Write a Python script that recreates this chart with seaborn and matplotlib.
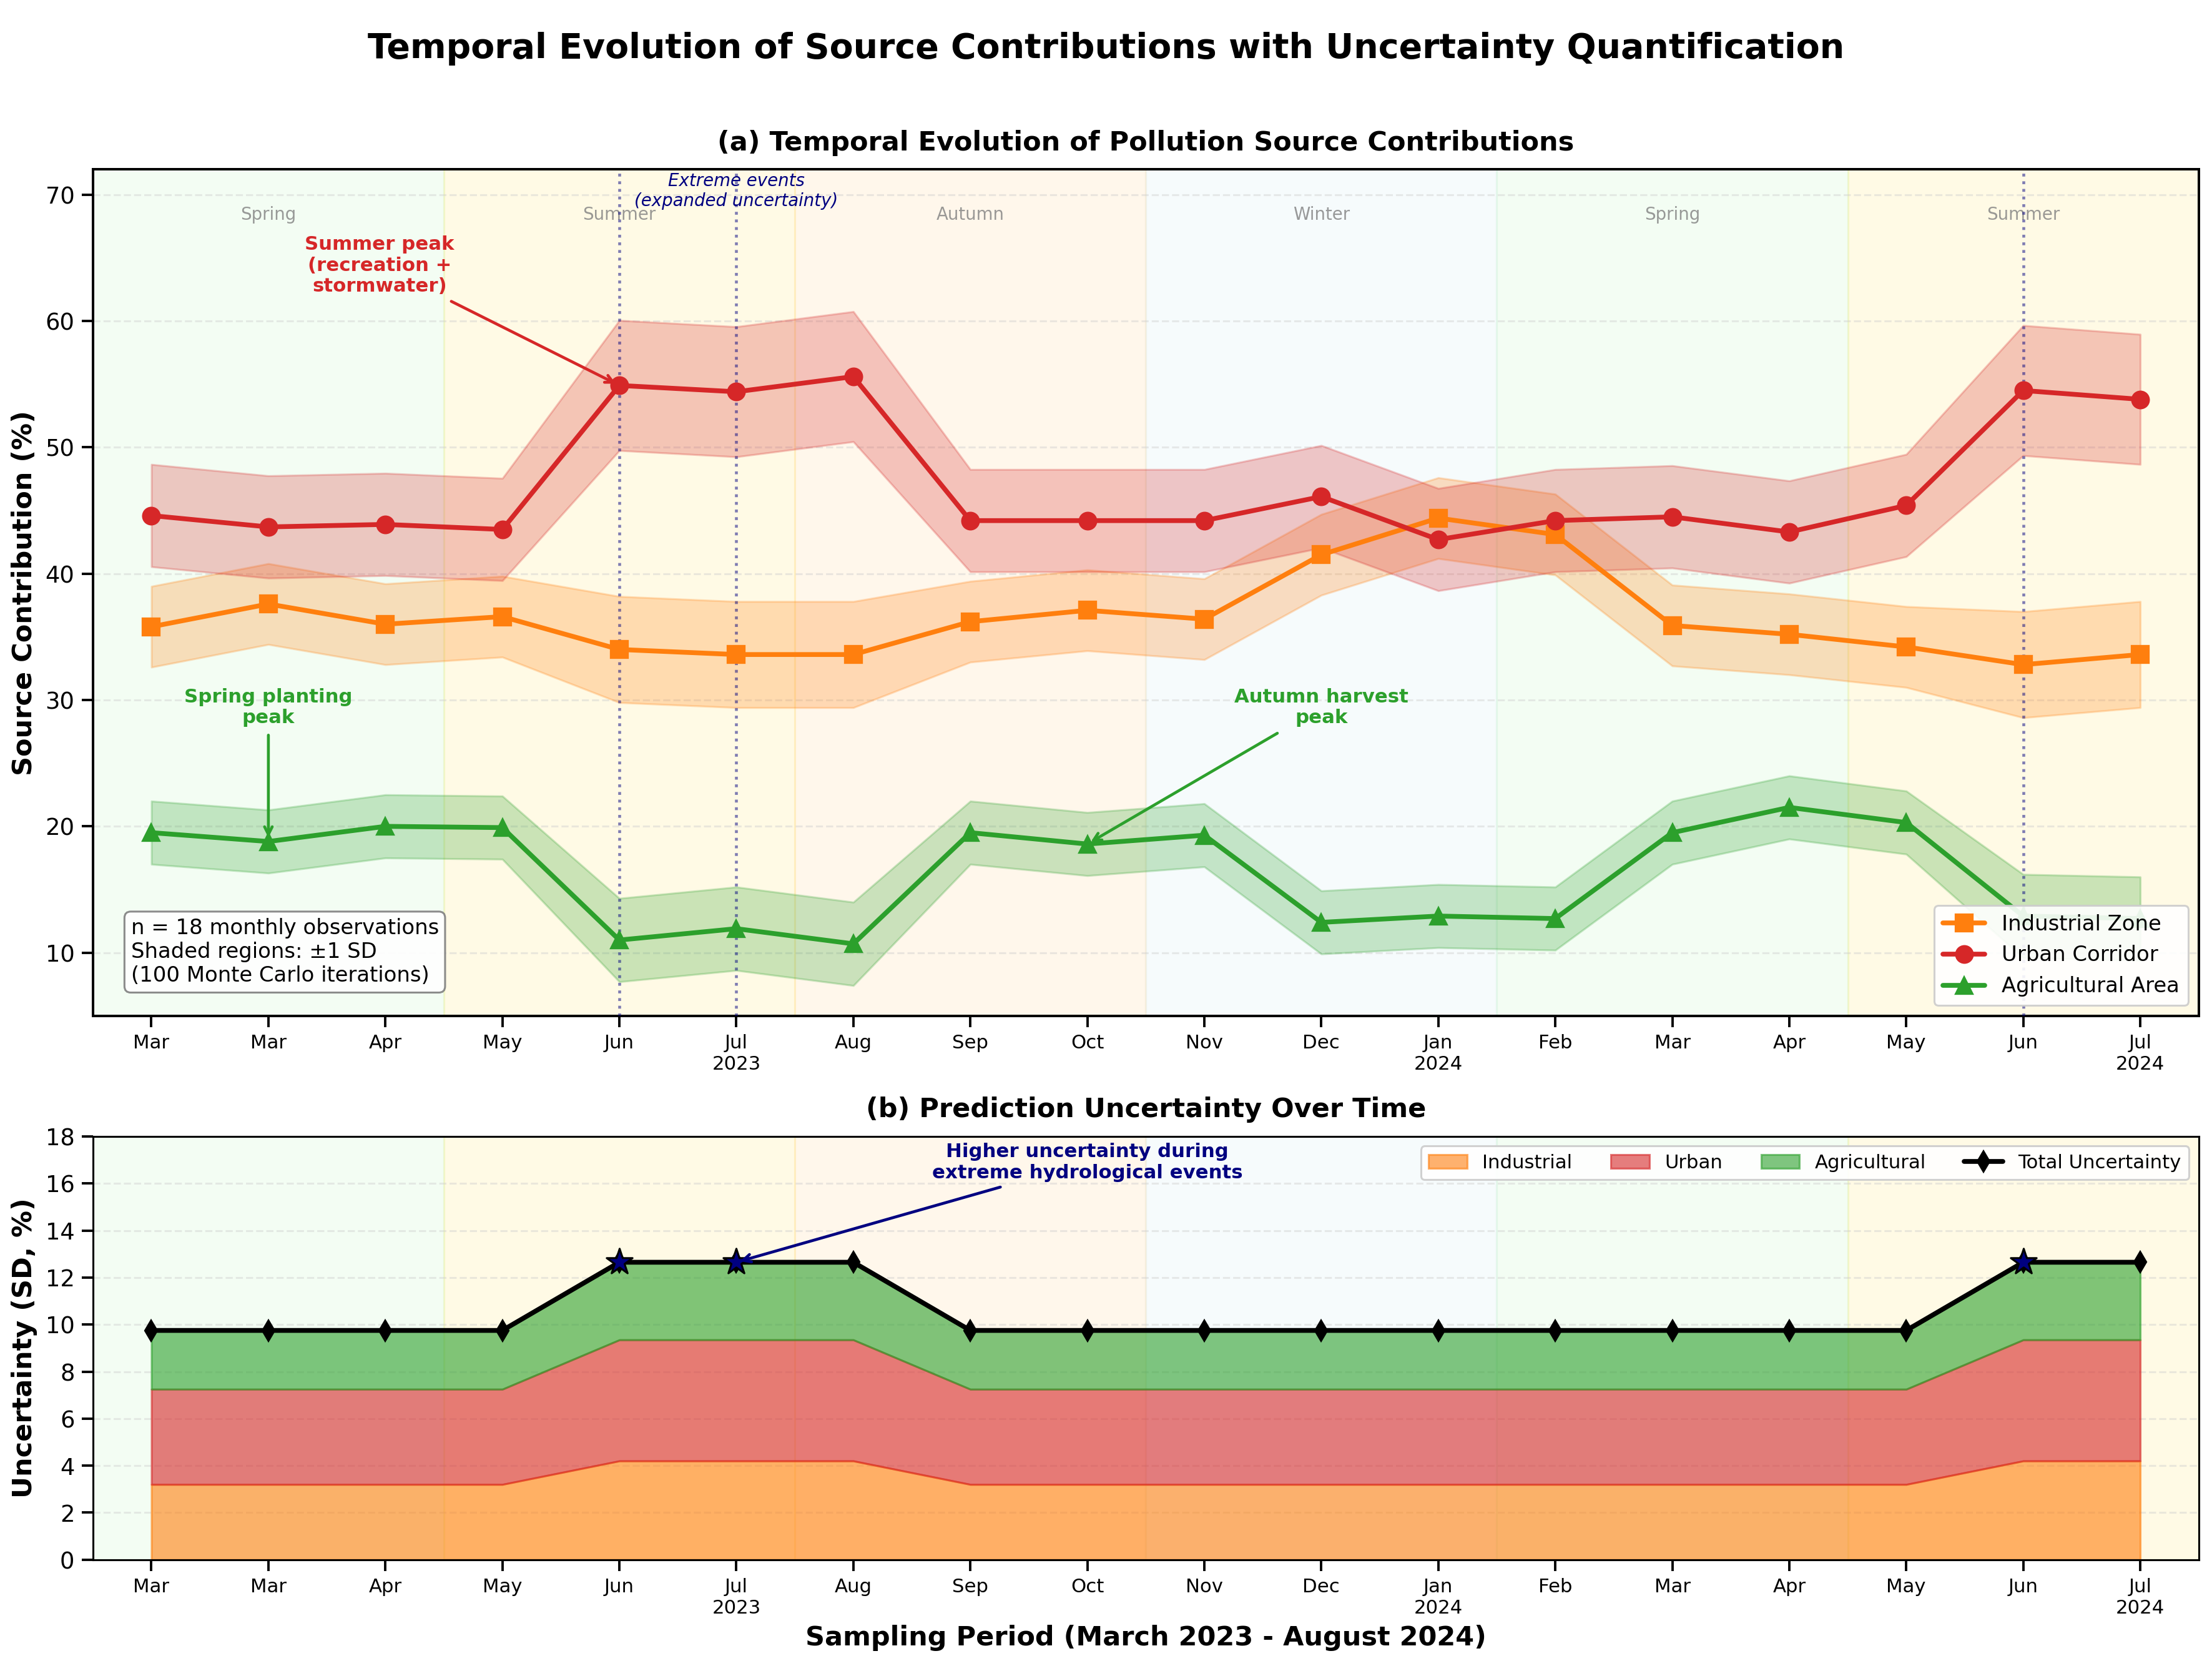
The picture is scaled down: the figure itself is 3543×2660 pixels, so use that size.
import numpy as np
import pandas as pd
import matplotlib
matplotlib.use("Agg")
import matplotlib.pyplot as plt
import seaborn as sns

# ---------------- data ----------------
month_labels = ["Mar", "Mar", "Apr", "May", "Jun", "Jul\n2023", "Aug", "Sep", "Oct",
                "Nov", "Dec", "Jan\n2024", "Feb", "Mar", "Apr", "May", "Jun", "Jul\n2024"]
industrial = [35.8, 37.6, 36.0, 36.6, 34.0, 33.6, 33.6, 36.2, 37.1,
              36.4, 41.5, 44.4, 43.1, 35.9, 35.2, 34.2, 32.8, 33.6]
urban = [44.6, 43.7, 43.9, 43.5, 54.9, 54.4, 55.6, 44.2, 44.2,
         44.2, 46.1, 42.7, 44.2, 44.5, 43.3, 45.4, 54.5, 53.8]
agricultural = [19.5, 18.8, 20.0, 19.9, 11.0, 11.9, 10.7, 19.5, 18.6,
                19.3, 12.4, 12.9, 12.7, 19.5, 21.5, 20.3, 12.9, 12.7]
sd_industrial = [3.2, 3.2, 3.2, 3.2, 4.2, 4.2, 4.2, 3.2, 3.2,
                 3.2, 3.2, 3.2, 3.2, 3.2, 3.2, 3.2, 4.2, 4.2]
sd_urban = [4.05, 4.05, 4.05, 4.05, 5.15, 5.15, 5.15, 4.05, 4.05,
            4.05, 4.05, 4.05, 4.05, 4.05, 4.05, 4.05, 5.15, 5.15]
sd_agricultural = [2.5, 2.5, 2.5, 2.5, 3.3, 3.3, 3.3, 2.5, 2.5,
                   2.5, 2.5, 2.5, 2.5, 2.5, 2.5, 2.5, 3.3, 3.3]
extreme_idx = [4, 5, 16]
seasons = ["Spring", "Summer", "Autumn", "Winter", "Spring", "Summer"]
season_colors = ["#90EE90", "#FFD700", "#FFA500", "#ADD8E6", "#90EE90", "#FFD700"]
season_alpha = [0.1, 0.1, 0.08, 0.1, 0.1, 0.1]
season_bounds = [(-0.5, 2.5), (2.5, 5.5), (5.5, 8.5), (8.5, 11.5), (11.5, 14.5), (14.5, 17.5)]

x = np.arange(len(month_labels))
df = pd.DataFrame({"x": x, "Industrial Zone": industrial, "Urban Corridor": urban,
                   "Agricultural Area": agricultural})
total_sd = np.array(sd_industrial) + np.array(sd_urban) + np.array(sd_agricultural)

C_IND, C_URB, C_AGR = "#ff7f0e", "#d62728", "#2ca02c"

sns.set_theme(style="ticks", rc={"text.color": "black", "axes.labelcolor": "black",
                                 "xtick.color": "black", "ytick.color": "black",
                                 "axes.edgecolor": "black"})
plt.rcParams["font.family"] = ["DejaVu Sans"]

fig = plt.figure(figsize=(16.0, 12.0125), dpi=221.4375)
gs = fig.add_gridspec(2, 1, height_ratios=[2, 1], left=0.042, right=0.994,
                      top=0.898, bottom=0.061, hspace=0.19)
ax1 = fig.add_subplot(gs[0])
ax2 = fig.add_subplot(gs[1])

def shade(ax):
    for (a, b), c, al in zip(season_bounds, season_colors, season_alpha):
        ax.axvspan(a, b, color=c, alpha=al, zorder=0, lw=1)

# ---------------- panel (a) ----------------
shade(ax1)
for (a, b), s in zip(season_bounds, seasons):
    ax1.text(a + 1.5, 68.4, s, ha="center", va="center", fontsize=9, color="gray", alpha=0.8)

series = [("Industrial Zone", industrial, sd_industrial, C_IND, "s"),
          ("Urban Corridor", urban, sd_urban, C_URB, "o"),
          ("Agricultural Area", agricultural, sd_agricultural, C_AGR, "^")]
for name, vals, sd, c, m in series:
    v = np.array(vals); s = np.array(sd)
    ax1.fill_between(x, v - s, v + s, color=c, alpha=0.25, zorder=2, lw=1)
for name, vals, sd, c, m in series:
    sns.lineplot(data=df, x="x", y=name, ax=ax1, color=c, marker=m, markersize=9,
                 linewidth=2.5, markeredgecolor=c, label=name, zorder=4)

for i in extreme_idx:
    ax1.axvline(i, color="navy", linestyle=":", linewidth=1.5, alpha=0.5, zorder=3)

ax1.text(5, 70.3, "Extreme events\n(expanded uncertainty)", ha="center", va="center",
         fontsize=9, style="italic", color="navy")

ax1.annotate("Summer peak\n(recreation +\nstormwater)", xy=(4, urban[4]), xytext=(1.95, 64.4),
             ha="center", va="center", fontsize=10, fontweight="bold", color=C_URB,
             arrowprops=dict(arrowstyle="->", color=C_URB, lw=1.5), zorder=6)
ax1.annotate("Spring planting\npeak", xy=(1, agricultural[1]), xytext=(1, 29.4),
             ha="center", va="center", fontsize=10, fontweight="bold", color=C_AGR,
             arrowprops=dict(arrowstyle="->", color=C_AGR, lw=1.5), zorder=6)
ax1.annotate("Autumn harvest\npeak", xy=(8, agricultural[8]), xytext=(10, 29.4),
             ha="center", va="center", fontsize=10, fontweight="bold", color=C_AGR,
             arrowprops=dict(arrowstyle="->", color=C_AGR, lw=1.5), zorder=6)

ax1.text(0.018, 0.035, "n = 18 monthly observations\nShaded regions: \u00b11 SD\n(100 Monte Carlo iterations)",
         transform=ax1.transAxes, fontsize=11, va="bottom", ha="left", zorder=7,
         bbox=dict(boxstyle="round,pad=0.3", facecolor="white", edgecolor="gray", alpha=0.9))

ax1.set_xlim(-0.5, 17.5)
ax1.set_ylim(5, 72)
ax1.set_yticks([10, 20, 30, 40, 50, 60, 70])
ax1.set_xticks(x)
ax1.set_xticklabels(month_labels, fontsize=10)
ax1.tick_params(axis="y", labelsize=12)
ax1.set_xlabel("")
ax1.set_ylabel("Source Contribution (%)", fontsize=14, fontweight="bold")
ax1.set_title("(a) Temporal Evolution of Pollution Source Contributions",
              fontsize=14, fontweight="bold", pad=10)
ax1.grid(axis="y", linestyle="--", alpha=0.4)
ax1.grid(axis="x", visible=False)
ax1.legend(loc="lower right", fontsize=11, framealpha=0.9)
for sp in ax1.spines.values():
    sp.set_linewidth(1.3)

# ---------------- panel (b) ----------------
shade(ax2)
ind = np.array(sd_industrial)
urb = ind + np.array(sd_urban)
agr = urb + np.array(sd_agricultural)
ax2.fill_between(x, 0, ind, color=C_IND, alpha=0.6, label="Industrial", zorder=2)
ax2.fill_between(x, ind, urb, color=C_URB, alpha=0.6, label="Urban", zorder=2)
ax2.fill_between(x, urb, agr, color=C_AGR, alpha=0.6, label="Agricultural", zorder=2)
tdf = pd.DataFrame({"x": x, "total": total_sd})
sns.lineplot(data=tdf, x="x", y="total", ax=ax2, color="black", marker="d", markersize=8,
             markeredgecolor="black", linewidth=2.5, label="Total Uncertainty", zorder=4)
ex = tdf.iloc[extreme_idx]
sns.scatterplot(data=ex, x="x", y="total", ax=ax2, marker="*", s=200, color="navy",
                edgecolor="black", linewidth=1, zorder=5, legend=False)
ax2.annotate("Higher uncertainty during\nextreme hydrological events", xy=(5, total_sd[5]),
             xytext=(8, 16.9), ha="center", va="center", fontsize=10, fontweight="bold",
             color="navy", arrowprops=dict(arrowstyle="->", color="navy", lw=1.5), zorder=6)

ax2.set_xlim(-0.5, 17.5)
ax2.set_ylim(0, 18)
ax2.set_yticks(np.arange(0, 19, 2))
ax2.set_xticks(x)
ax2.set_xticklabels(month_labels, fontsize=10)
ax2.tick_params(axis="y", labelsize=12)
ax2.set_xlabel("Sampling Period (March 2023 - August 2024)", fontsize=14, fontweight="bold")
ax2.set_ylabel("Uncertainty (SD, %)", fontsize=14, fontweight="bold")
ax2.set_title("(b) Prediction Uncertainty Over Time", fontsize=14, fontweight="bold", pad=10)
ax2.grid(axis="y", linestyle="--", alpha=0.4)
ax2.grid(axis="x", visible=False)
ax2.legend(loc="upper right", ncol=4, fontsize=10, framealpha=0.9)
for sp in ax2.spines.values():
    sp.set_linewidth(1.0)

fig.suptitle("Temporal Evolution of Source Contributions with Uncertainty Quantification",
             fontsize=18, fontweight="bold", y=0.981)

fig.savefig("out.png", dpi=221.4375)
